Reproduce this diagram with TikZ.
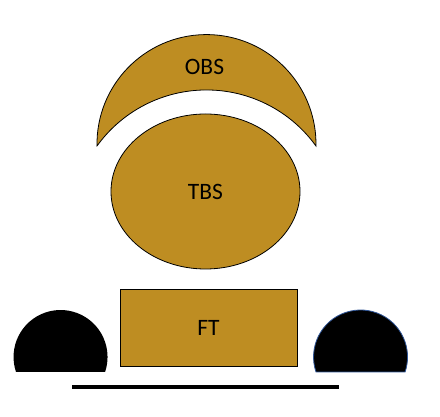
\documentclass[tikz,border=0pt]{standalone}
\usepackage{fontspec}
\setmainfont{Carlito}
\usetikzlibrary{shapes.geometric}
\definecolor{gold}{RGB}{190,141,34}
\definecolor{outlineblue}{RGB}{47,85,151}
\tikzset{
  part/.style={fill=gold, draw=black, line width=0.8pt},
  lbl/.style={font=\fontsize{23.5}{25}\selectfont, text=black},
  dome/.style={fill=black},
}
\begin{document}
\begin{tikzpicture}[x=1pt,y=1pt]
\useasboundingbox (0,0) rectangle (440,417);
% OBS crescent
\path[part] (97,271) arc[start angle=181, end angle=-1, radius=109.5]
  arc[start angle=35.8, end angle=144.2, radius=135] -- cycle;
\node[lbl] (obs) at (204.5,350) {OBS};
% TBS
\node[part, ellipse, minimum width=189pt, minimum height=155pt, inner sep=0pt] (tbs) at (205.5,225.5) {};
\node[lbl] at (tbs.center) (tbsl) {TBS};
% FT
\node[part, rectangle, minimum width=177pt, minimum height=77pt, inner sep=0pt] (ft) at (208.5,89.5) {};
\node[lbl] at (ft.center) (ftl) {FT};
% domes
\path[dome] (16,45) arc[start angle=198.6, end angle=-18.6, radius=47] -- cycle;
\path[dome, draw=outlineblue, line width=0.8pt] (316,45) arc[start angle=198.6, end angle=-18.6, radius=47] -- cycle;
% base line
\coordinate (la) at (72,30);
\coordinate (lb) at (339,30);
\draw[line width=4pt] (la) -- (lb);
\end{tikzpicture}
\end{document}
